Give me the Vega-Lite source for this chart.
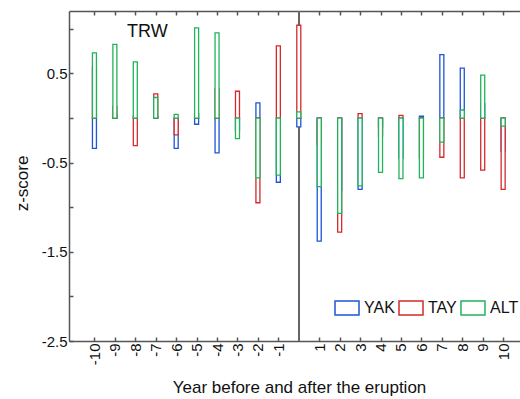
{
  "$schema": "https://vega.github.io/schema/vega-lite/v6.json",
  "width": 451,
  "height": 330,
  "autosize": {"type": "none"},
  "padding": {"left": 69, "top": 11, "right": 0, "bottom": 58},
  "background": "white",
  "config": {
    "view": {"stroke": null},
    "font": "Liberation Sans",
    "axis": {
      "domainColor": "#555",
      "domainWidth": 1.5,
      "tickColor": "#555",
      "tickWidth": 1.5,
      "grid": false,
      "labelColor": "#111",
      "titleColor": "#111",
      "labelFont": "Liberation Sans",
      "titleFont": "Liberation Sans",
      "titleFontWeight": "normal"
    }
  },
  "title": {
    "text": "TRW",
    "anchor": "start",
    "frame": "group",
    "dx": 58,
    "offset": -45,
    "baseline": "alphabetic",
    "fontSize": 18,
    "fontWeight": "normal",
    "font": "Liberation Sans",
    "color": "#111"
  },
  "data": {
    "values": [
      {"year": -10, "series": "YAK", "value": -0.34},
      {"year": -9, "series": "YAK", "value": 0.02},
      {"year": -8, "series": "YAK", "value": 0.02},
      {"year": -7, "series": "YAK", "value": 0.02},
      {"year": -6, "series": "YAK", "value": -0.34},
      {"year": -5, "series": "YAK", "value": -0.07},
      {"year": -4, "series": "YAK", "value": -0.39},
      {"year": -3, "series": "YAK", "value": -0.14},
      {"year": -2, "series": "YAK", "value": 0.17},
      {"year": -1, "series": "YAK", "value": -0.72},
      {"year": 0, "series": "YAK", "value": -0.10},
      {"year": 1, "series": "YAK", "value": -1.38},
      {"year": 2, "series": "YAK", "value": -0.81},
      {"year": 3, "series": "YAK", "value": -0.80},
      {"year": 4, "series": "YAK", "value": -0.10},
      {"year": 5, "series": "YAK", "value": -0.45},
      {"year": 6, "series": "YAK", "value": 0.02},
      {"year": 7, "series": "YAK", "value": 0.71},
      {"year": 8, "series": "YAK", "value": 0.56},
      {"year": 9, "series": "YAK", "value": 0.16},
      {"year": 10, "series": "YAK", "value": -0.37},
      {"year": -10, "series": "TAY", "value": 0.57},
      {"year": -9, "series": "TAY", "value": 0.13},
      {"year": -8, "series": "TAY", "value": -0.31},
      {"year": -7, "series": "TAY", "value": 0.27},
      {"year": -6, "series": "TAY", "value": -0.19},
      {"year": -5, "series": "TAY", "value": 0.05},
      {"year": -4, "series": "TAY", "value": 0.33},
      {"year": -3, "series": "TAY", "value": 0.30},
      {"year": -2, "series": "TAY", "value": -0.95},
      {"year": -1, "series": "TAY", "value": 0.81},
      {"year": 0, "series": "TAY", "value": 1.04},
      {"year": 1, "series": "TAY", "value": -0.30},
      {"year": 2, "series": "TAY", "value": -1.28},
      {"year": 3, "series": "TAY", "value": 0.05},
      {"year": 4, "series": "TAY", "value": -0.20},
      {"year": 5, "series": "TAY", "value": 0.03},
      {"year": 6, "series": "TAY", "value": -0.45},
      {"year": 7, "series": "TAY", "value": -0.44},
      {"year": 8, "series": "TAY", "value": -0.67},
      {"year": 9, "series": "TAY", "value": -0.585},
      {"year": 10, "series": "TAY", "value": -0.80},
      {"year": -10, "series": "ALT", "value": 0.73},
      {"year": -9, "series": "ALT", "value": 0.825},
      {"year": -8, "series": "ALT", "value": 0.63},
      {"year": -7, "series": "ALT", "value": 0.23},
      {"year": -6, "series": "ALT", "value": 0.04},
      {"year": -5, "series": "ALT", "value": 1.01},
      {"year": -4, "series": "ALT", "value": 0.955},
      {"year": -3, "series": "ALT", "value": -0.23},
      {"year": -2, "series": "ALT", "value": -0.67},
      {"year": -1, "series": "ALT", "value": -0.64},
      {"year": 0, "series": "ALT", "value": 0.07},
      {"year": 1, "series": "ALT", "value": -0.77},
      {"year": 2, "series": "ALT", "value": -1.07},
      {"year": 3, "series": "ALT", "value": -0.76},
      {"year": 4, "series": "ALT", "value": -0.61},
      {"year": 5, "series": "ALT", "value": -0.68},
      {"year": 6, "series": "ALT", "value": -0.67},
      {"year": 7, "series": "ALT", "value": -0.27},
      {"year": 8, "series": "ALT", "value": 0.09},
      {"year": 9, "series": "ALT", "value": 0.48},
      {"year": 10, "series": "ALT", "value": -0.09}
    ]
  },
  "layer": [
    {
      "mark": {"type": "rule", "color": "#666", "strokeWidth": 1.5},
      "encoding": {
        "x": {
          "datum": 0,
          "type": "quantitative",
          "scale": {"domain": [-11, 10.58], "nice": false, "zero": false},
          "axis": {
            "orient": "top",
            "values": [-10, -9, -8, -7, -6, -5, -4, -3, -2, -1, 1, 2, 3, 4, 5, 6, 7, 8, 9, 10],
            "labels": false,
            "tickSize": -4,
            "title": null
          }
        }
      }
    },
    {
      "mark": {"type": "bar", "size": 4, "fill": "white", "fillOpacity": 1, "strokeWidth": 1.3},
      "encoding": {
        "x": {
          "field": "year",
          "type": "quantitative",
          "scale": {"domain": [-11, 10.58], "nice": false, "zero": false},
          "axis": {
            "orient": "bottom",
            "values": [-10, -9, -8, -7, -6, -5, -4, -3, -2, -1, 1, 2, 3, 4, 5, 6, 7, 8, 9, 10],
            "labelExpr": "'' + datum.value",
            "labelAngle": -90,
            "labelAlign": "right",
            "labelBaseline": "middle",
            "labelFontSize": 15,
            "labelPadding": 6,
            "tickSize": -4,
            "title": "Year before and after the eruption",
            "titleFontSize": 17,
            "titleX": 230,
            "titleY": 51,
            "titleBaseline": "alphabetic",
            "titleAnchor": "middle"
          }
        },
        "y": {
          "field": "value",
          "type": "quantitative",
          "stack": null,
          "scale": {"domain": [-2.5, 1.2], "nice": false},
          "axis": {
            "values": [-2.5, -2, -1.5, -1, -0.5, 0, 0.5, 1],
            "labelExpr": "abs(round(datum.value * 2)) % 2 == 1 ? '' + datum.value : ''",
            "labelFontSize": 15,
            "labelPadding": 6,
            "tickSize": -4,
            "title": "z-score",
            "titleFontSize": 17,
            "titleX": -42,
            "titleY": 172,
            "titleBaseline": "alphabetic",
            "titleAnchor": "middle"
          }
        },
        "stroke": {
          "field": "series",
          "type": "nominal",
          "scale": {"domain": ["YAK", "TAY", "ALT"], "range": ["#1d55d4", "#d42a2a", "#21b35c"]},
          "legend": {
            "orient": "none",
            "legendX": 265,
            "legendY": 284,
            "direction": "horizontal",
            "title": null,
            "padding": 0,
            "labelFontSize": 16,
            "labelFont": "Liberation Sans",
            "labelColor": "#111",
            "labelOffset": 4,
            "columnPadding": 1,
            "labelLimit": 60,
            "symbolSize": 576,
            "symbolStrokeWidth": 1.5,
            "symbolFillColor": "white",
            "symbolType": "M-1,-0.58H1V0.58H-1Z"
          }
        }
      }
    }
  ],
  "resolve": {"axis": {"x": "independent"}}
}
